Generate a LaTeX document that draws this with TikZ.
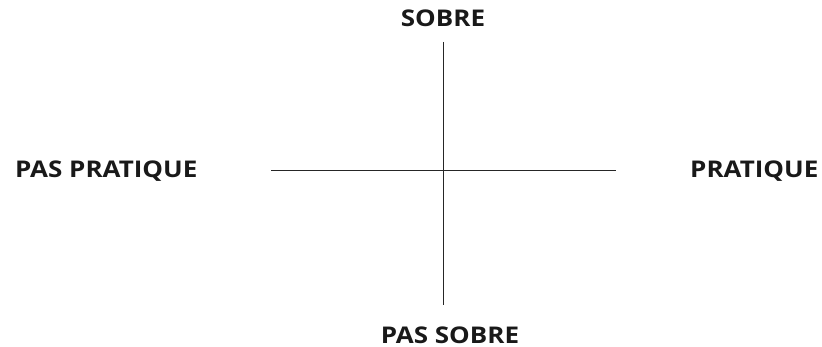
\documentclass[tikz,border=0pt]{standalone}
\usepackage{fontspec}
\usepackage{graphicx}
\setmainfont{Open Sans}
\newcommand\widetxt[1]{\scalebox{1.13}[1]{#1}}
\begin{document}
\begin{tikzpicture}[x=1pt,y=-1pt,
  lbl/.style={inner sep=0pt,font=\fontsize{23}{26}\selectfont\bfseries,text=black!90},
  axis/.style={line width=1pt,draw=black!85}]
\useasboundingbox (0,0) rectangle (822,347);
\coordinate (top) at (443,42);
\coordinate (bot) at (443,305);
\coordinate (lft) at (271,171);
\coordinate (rgt) at (616,171);
\draw[axis] (top) -- (bot);
\draw[axis] (lft) -- (rgt);
\node[lbl,anchor=base] (sobre) at (443,27) {\widetxt{SOBRE}};
\node[lbl,anchor=base] (passobre) at (450,343) {\widetxt{PAS SOBRE}};
\node[lbl,anchor=base west] (paspratique) at (15,178) {\widetxt{PAS PRATIQUE}};
\node[lbl,anchor=base west] (pratique) at (690,178) {\widetxt{PRATIQUE}};
\end{tikzpicture}
\end{document}
